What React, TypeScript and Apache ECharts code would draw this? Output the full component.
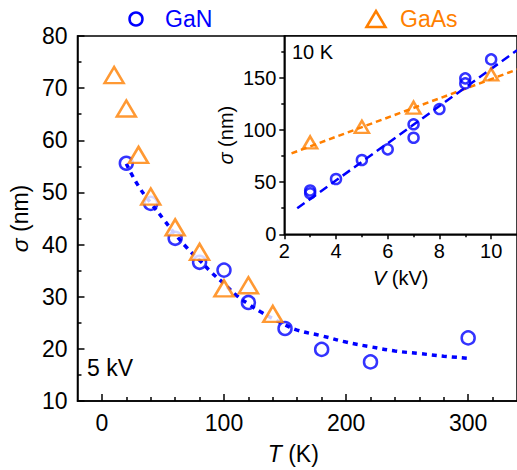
import React, { useEffect, useRef } from "react";
import * as echarts from "echarts";

// ---- Main panel data (sigma vs T at 5 kV) ----
const ganT = [20, 40, 60, 80, 100, 120, 150, 180, 220, 300];
const ganSigma = [55.6, 47.9, 41.2, 36.6, 35.1, 28.9, 23.9, 19.9, 17.5, 22.1];
const gaasT = [10, 20, 30, 40, 60, 80, 100, 120, 140];
const gaasSigma = [72.5, 66.1, 57.2, 49.2, 43.3, 38.6, 31.6, 32.2, 26.7];
const fitT = [20, 30, 40, 50, 60, 70, 80, 90, 100, 110, 120, 130, 140, 150, 160, 180, 200, 220, 240, 260, 280, 300];
const fitSigma = [55.5, 51.2, 48.0, 45.0, 42.0, 39.3, 37.0, 34.6, 32.5, 30.3, 28.6, 27.1, 25.8, 24.6, 23.6, 22.5, 21.3, 20.4, 19.6, 19.1, 18.6, 18.2];
const mainXMajor = [0, 100, 200, 300];
const mainXMinor = [20, 40, 60, 80, 120, 140, 160, 180, 220, 240, 260, 280, 320];

// ---- Inset data (sigma vs V at 10 K) ----
const insetGanV = [3, 3, 4, 5, 6, 7, 7, 8, 9, 9, 10];
const insetGanSigma = [42, 39.3, 53, 71.2, 81.4, 105.4, 92.5, 120, 149.4, 144.6, 167.6];
const insetGaasV = [3, 5, 7, 10];
const insetGaasSigma = [88, 103, 121.3, 153.2];
const ganFitV = [2.5, 11];
const ganFitSigma = [24.9, 176.3];
const gaasFitV = [2.28, 11];
const gaasFitSigma = [77.6, 157.9];
const insetXMajor = [2, 4, 6, 8, 10];
const insetXMinor = [3, 5, 7, 9];
const insetYMajor = [0, 50, 100, 150];
const insetYMinor = [25, 75, 125, 175];

const BLUE = "#0000ff";
const ORANGE = "#ff7f00";
const FONT = "'Liberation Sans', Arial, sans-serif";

const zip = (a: number[], b: number[]) => a.map((v, i) => [v, b[i]]);

export default function App() {
  const ref = useRef<HTMLDivElement>(null);
  useEffect(() => {
    document.body.style.margin = "0";
    const chart = echarts.init(ref.current!, null, { renderer: "svg" });
    const axisLine = { show: true, onZero: false, lineStyle: { color: "#000", width: 1.5 } };
    const hiddenLine = { show: false, onZero: false };
    const noSplit = { show: false };
    const option: any = {
      animation: false,
      backgroundColor: "#fff",
      textStyle: { fontFamily: FONT },
      grid: [
        { left: 71, top: 36, right: -2, bottom: 69, show: true, borderColor: "#000", borderWidth: 1.5 },
        { left: 284.3, top: 36, right: -4, bottom: 235.7, show: true, borderColor: "#000", borderWidth: 1.5, backgroundColor: "#fff" },
      ],
      xAxis: [
        {
          gridIndex: 0, type: "value", min: -20, max: 340, position: "bottom",
          axisLine, splitLine: noSplit,
          axisTick: { inside: true, length: 7, customValues: mainXMajor, lineStyle: { color: "#000", width: 1.5 } },
          axisLabel: { customValues: mainXMajor, fontSize: 23, color: "#000", margin: 10, fontFamily: FONT },
          name: "{i|T} (K)", nameLocation: "middle", nameGap: 41,
          nameTextStyle: { fontSize: 23, color: "#000", fontFamily: FONT, padding: [0, 8, 0, 0], rich: { i: { fontSize: 23, fontStyle: "italic", fontFamily: FONT, color: "#000" } } },
        },
        {
          gridIndex: 0, type: "value", min: -20, max: 340, position: "bottom",
          axisLine: hiddenLine, splitLine: noSplit, axisLabel: { show: false },
          axisTick: { inside: true, length: 4, customValues: mainXMinor, lineStyle: { color: "#000", width: 1.5 } },
        },
        {
          gridIndex: 1, type: "value", min: 2, max: 11, position: "bottom",
          axisLine, splitLine: noSplit,
          axisTick: { inside: false, length: 5, customValues: insetXMajor, lineStyle: { color: "#000", width: 1.5 } },
          axisLabel: { customValues: insetXMajor, fontSize: 20, color: "#000", margin: 7, fontFamily: FONT },
          name: "{i|V} (kV)", nameLocation: "middle", nameGap: 34,
          nameTextStyle: { fontSize: 20, color: "#000", fontFamily: FONT, rich: { i: { fontSize: 20, fontStyle: "italic", fontFamily: FONT, color: "#000" } } },
        },
        {
          gridIndex: 1, type: "value", min: 2, max: 11, position: "bottom",
          axisLine: hiddenLine, splitLine: noSplit, axisLabel: { show: false },
          axisTick: { inside: false, length: 3, customValues: insetXMinor, lineStyle: { color: "#000", width: 1.5 } },
        },
      ],
      yAxis: [
        {
          gridIndex: 0, type: "value", min: 10, max: 80, interval: 10, position: "left",
          axisLine, splitLine: noSplit,
          axisTick: { inside: true, length: 7, lineStyle: { color: "#000", width: 1.5 } },
          minorTick: { show: true, splitNumber: 2, length: 4, lineStyle: { color: "#000", width: 1.5 } },
          minorSplitLine: { show: false },
          axisLabel: { fontSize: 23, color: "#000", margin: 10, fontFamily: FONT },
          name: "{i|σ} (nm)", nameLocation: "middle", nameGap: 31,
          nameTextStyle: { fontSize: 23, color: "#000", fontFamily: FONT, rich: { i: { fontSize: 23, fontStyle: "italic", fontFamily: FONT, color: "#000" } } },
        },
        {
          gridIndex: 1, type: "value", min: 0, max: 190, position: "left",
          axisLine, splitLine: noSplit,
          axisTick: { inside: false, length: 5, customValues: insetYMajor, lineStyle: { color: "#000", width: 1.5 } },
          axisLabel: { customValues: insetYMajor, fontSize: 20, color: "#000", margin: 8, fontFamily: FONT },
          name: "{i|σ} (nm)", nameLocation: "middle", nameGap: 48,
          nameTextStyle: { fontSize: 20, color: "#000", fontFamily: FONT, rich: { i: { fontSize: 20, fontStyle: "italic", fontFamily: FONT, color: "#000" } } },
        },
        {
          gridIndex: 1, type: "value", min: 0, max: 190, position: "left",
          axisLine: hiddenLine, splitLine: noSplit, axisLabel: { show: false },
          axisTick: { inside: false, length: 3, customValues: insetYMinor, lineStyle: { color: "#000", width: 1.5 } },
        },
      ],
      series: [
        {
          name: "GaN", type: "scatter", xAxisIndex: 0, yAxisIndex: 0, z: 2,
          data: zip(ganT, ganSigma), symbol: "circle", symbolSize: 13,
          itemStyle: { color: "transparent", borderColor: BLUE, borderWidth: 2.5 },
        },
        {
          name: "GaN fit", type: "line", xAxisIndex: 0, yAxisIndex: 0, z: 3,
          data: zip(fitT, fitSigma), smooth: true, showSymbol: false, symbol: "none",
          lineStyle: { color: BLUE, width: 3.5, type: [5, 5] },
        },
        {
          name: "GaAs", type: "scatter", xAxisIndex: 0, yAxisIndex: 0, z: 4,
          data: zip(gaasT, gaasSigma), symbol: "triangle", symbolSize: [19, 16],
          itemStyle: { color: "#fff", borderColor: ORANGE, borderWidth: 2.5 },
        },
        {
          name: "GaAs inset fit", type: "line", xAxisIndex: 2, yAxisIndex: 1, z: 5,
          data: zip(gaasFitV, gaasFitSigma), showSymbol: false, symbol: "none",
          lineStyle: { color: ORANGE, width: 2.5, type: [6, 4] },
        },
        {
          name: "GaN inset fit", type: "line", xAxisIndex: 2, yAxisIndex: 1, z: 5,
          data: zip(ganFitV, ganFitSigma), showSymbol: false, symbol: "none",
          lineStyle: { color: BLUE, width: 2.5, type: [9, 5] },
        },
        {
          name: "GaN inset", type: "scatter", xAxisIndex: 2, yAxisIndex: 1, z: 6,
          data: zip(insetGanV, insetGanSigma), symbol: "circle", symbolSize: 10,
          itemStyle: { color: "transparent", borderColor: BLUE, borderWidth: 2.5 },
        },
        {
          name: "GaAs inset", type: "scatter", xAxisIndex: 2, yAxisIndex: 1, z: 6,
          data: zip(insetGaasV, insetGaasSigma), symbol: "triangle", symbolSize: [14, 12],
          itemStyle: { color: "transparent", borderColor: ORANGE, borderWidth: 2.5 },
        },
      ],
      graphic: [
        { type: "circle", shape: { cx: 136, cy: 19, r: 6.5 }, style: { fill: "none", stroke: BLUE, lineWidth: 2.5 } },
        { type: "text", x: 165, y: 19, style: { text: "GaN", fill: BLUE, fontSize: 23, fontFamily: FONT, verticalAlign: "middle", align: "left" } },
        { type: "polygon", shape: { points: [[366.5, 27], [376, 11], [385.5, 27]] }, style: { fill: "#fff", stroke: ORANGE, lineWidth: 2.5 } },
        { type: "text", x: 400, y: 19, style: { text: "GaAs", fill: ORANGE, fontSize: 23, fontFamily: FONT, verticalAlign: "middle", align: "left" } },
        { type: "text", x: 87, y: 368, style: { text: "5 kV", fill: "#000", fontSize: 23, fontFamily: FONT, verticalAlign: "middle", align: "left" } },
        { type: "text", x: 292, y: 52, z: 100, style: { text: "10 K", fill: "#000", fontSize: 20, fontFamily: FONT, verticalAlign: "middle", align: "left" } },
      ],
    };
    chart.setOption(option);
    return () => chart.dispose();
  }, []);
  return <div ref={ref} style={{ width: 517, height: 470 }} />;
}
